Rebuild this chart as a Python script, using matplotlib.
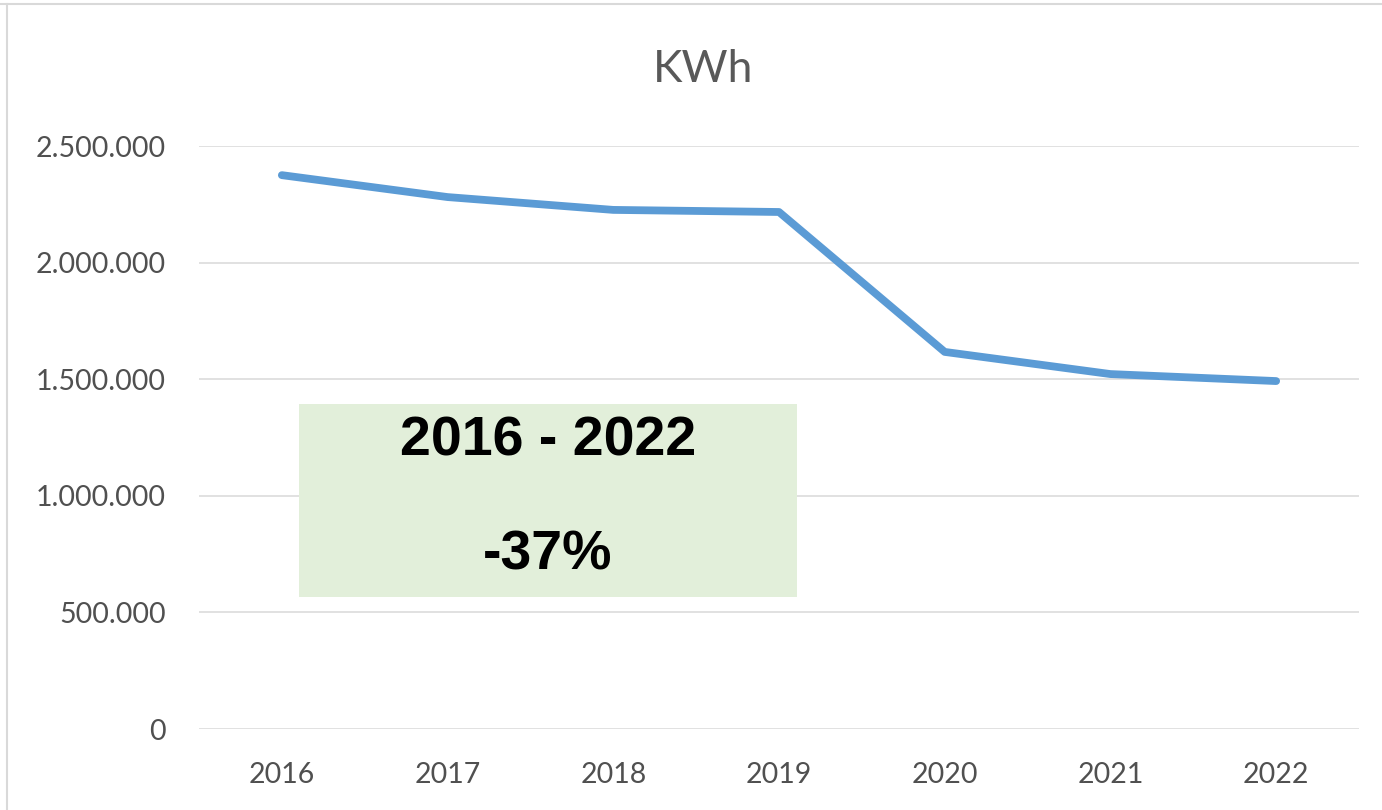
import matplotlib
matplotlib.use("Agg")
import matplotlib.pyplot as plt
from matplotlib.patches import Rectangle
from matplotlib.lines import Line2D
from matplotlib.ticker import FuncFormatter, MultipleLocator

years = ["2016", "2017", "2018", "2019", "2020", "2021", "2022"]
kwh = [2375000, 2281000, 2226000, 2217000, 1617000, 1522000, 1492000]
title = "KWh"
box_lines = ["2016 - 2022", "-37%"]

grey_text = "#505050"
grid_col = "#D9D9D9"
line_col = "#5B9BD5"

fig = plt.figure(figsize=(13.82, 8.10), dpi=100)
ax = fig.add_axes([199 / 1382, 81 / 810, 1160 / 1382, 583 / 810])

x = list(range(len(years)))
ax.plot(x, kwh, color=line_col, lw=5.6, solid_capstyle="round", solid_joinstyle="round", zorder=3)

ax.set_xlim(-0.5, len(years) - 0.5)
ax.set_ylim(0, 2500000)
ax.yaxis.set_major_locator(MultipleLocator(500000))
ax.yaxis.set_major_formatter(FuncFormatter(lambda v, p: f"{v:,.0f}".replace(",", ".")))
ax.set_xticks(x)
ax.set_xticklabels(years)
ax.grid(axis="y", color=grid_col, lw=1.1)
ax.set_axisbelow(True)
for s in ax.spines.values():
    s.set_visible(False)
ax.tick_params(length=0, labelsize=20.5, labelcolor=grey_text)
ax.tick_params(axis="y", pad=24)
ax.tick_params(axis="x", pad=24)
for lab in ax.get_xticklabels() + ax.get_yticklabels():
    lab.set_fontfamily("Lato")

fig.text(703 / 1382, (810 - 70) / 810, title, ha="center", va="center",
         fontsize=32, color="#595959", family="Lato")

# green annotation box
fig.add_artist(Rectangle((299 / 1382, 213 / 810), 498 / 1382, 193 / 810,
                         transform=fig.transFigure, facecolor="#E2EFDA",
                         edgecolor="none", zorder=2))
fig.text(548 / 1382, (810 - 441) / 810, box_lines[0], ha="center", va="center",
         fontsize=40, fontweight="bold", family="Liberation Sans", zorder=3)
fig.text(548 / 1382, (810 - 555) / 810, box_lines[1], ha="center", va="center",
         fontsize=40, fontweight="bold", family="Liberation Sans", zorder=3)

# thin frame lines at top and left
fig.add_artist(Line2D([0, 1], [1 - 4 / 810, 1 - 4 / 810], color="#D9D9D9", lw=1.5,
                      transform=fig.transFigure))
fig.add_artist(Line2D([7 / 1382, 7 / 1382], [0, 1 - 4 / 810], color="#D9D9D9", lw=1.5,
                      transform=fig.transFigure))

fig.savefig("out.png", dpi=100)
